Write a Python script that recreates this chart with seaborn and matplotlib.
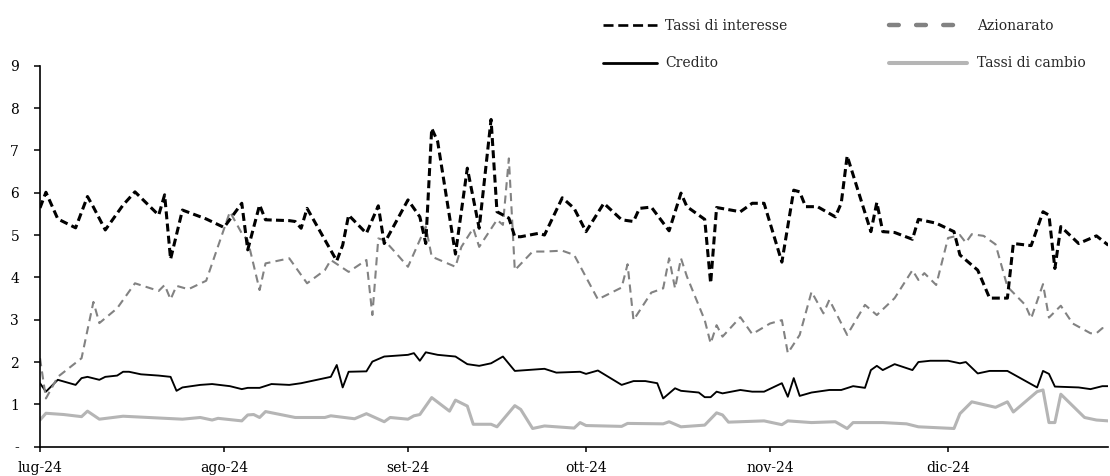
import matplotlib
matplotlib.use("Agg")
import matplotlib.pyplot as plt
from matplotlib.lines import Line2D
import numpy as np
import pandas as pd
import seaborn as sns

# valori (giorno, valore), anno 2024
tassi_interesse_giorni = [
    "07-01", "07-02", "07-04", "07-07", "07-09", "07-10", "07-12", "07-15", "07-17", "07-21",
    "07-22", "07-23", "07-25", "07-29",
    "08-01", "08-04", "08-05", "08-07", "08-08", "08-12", "08-13", "08-14", "08-15", "08-20",
    "08-21", "08-22", "08-25", "08-27", "08-28",
    "09-01", "09-03", "09-04", "09-05", "09-06", "09-09", "09-11", "09-13", "09-15", "09-16",
    "09-18", "09-19", "09-20", "09-23", "09-24", "09-27", "09-29",
    "10-01", "10-04", "10-07", "10-09", "10-10", "10-12", "10-15", "10-17", "10-18", "10-21",
    "10-22", "10-23", "10-27", "10-29", "10-31",
    "11-03", "11-05", "11-06", "11-07", "11-09", "11-12", "11-13", "11-14", "11-18", "11-19",
    "11-20", "11-22", "11-25", "11-26", "11-29",
    "12-02", "12-03", "12-06", "12-08", "12-11", "12-12", "12-15", "12-17", "12-18", "12-19",
    "12-20", "12-23", "12-26", "12-28"]
tassi_interesse = [
    5.64, 6.01, 5.38, 5.17, 5.91, 5.66, 5.12, 5.71, 6.02, 5.47, 5.95, 4.43, 5.59, 5.38,
    5.18, 5.75, 4.65, 5.71, 5.36, 5.34, 5.32, 5.16, 5.63, 4.39, 4.76, 5.47, 5.04, 5.69, 4.80,
    5.83, 5.43, 4.80, 7.52, 7.21, 4.55, 6.58, 5.16, 7.73, 5.55, 5.40, 4.96, 4.96, 5.04, 5.00,
    5.88, 5.63,
    5.08, 5.75, 5.36, 5.32, 5.63, 5.66, 5.10, 5.99, 5.67, 5.37, 3.86, 5.65, 5.55, 5.75, 5.75,
    4.36, 6.06, 6.02, 5.67, 5.67, 5.43, 5.75, 6.87, 5.08, 5.77, 5.08, 5.06, 4.90, 5.37, 5.28,
    5.08, 4.53, 4.17, 3.51, 3.51, 4.80, 4.75, 5.55, 5.47, 4.21, 5.20, 4.80, 4.98, 4.76]

azionarato_giorni = [
    "07-01", "07-02", "07-04", "07-08", "07-10", "07-11", "07-14", "07-17", "07-21", "07-22",
    "07-23", "07-24", "07-26", "07-29",
    "08-02", "08-04", "08-05", "08-07", "08-08", "08-12", "08-15", "08-18", "08-19", "08-22",
    "08-25", "08-26", "08-27", "08-28", "08-30",
    "09-01", "09-04", "09-05", "09-09", "09-10", "09-12", "09-13", "09-16", "09-17", "09-18",
    "09-19", "09-22", "09-24", "09-27", "09-29",
    "10-03", "10-07", "10-08", "10-09", "10-12", "10-14", "10-15", "10-16", "10-17", "10-18",
    "10-21", "10-22", "10-23", "10-24", "10-27", "10-29",
    "11-01", "11-03", "11-04", "11-06", "11-08", "11-10", "11-11", "11-14", "11-17", "11-19",
    "11-22", "11-25", "11-26", "11-27", "11-29",
    "12-01", "12-03", "12-04", "12-05", "12-07", "12-09", "12-11", "12-14", "12-15", "12-17",
    "12-18", "12-20", "12-22", "12-25", "12-26", "12-27", "12-28"]
azionarato = [
    2.09, 1.14, 1.65, 2.09, 3.42, 2.92, 3.27, 3.86, 3.68, 3.82, 3.48, 3.80, 3.72, 3.92,
    5.55, 5.04, 4.88, 3.70, 4.33, 4.45, 3.86, 4.17, 4.41, 4.13, 4.41, 3.11, 4.92, 4.88, 4.57,
    4.25, 5.20, 4.49, 4.25, 4.72, 5.16, 4.72, 5.36, 5.24, 6.81, 4.17, 4.61, 4.61, 4.63, 4.53,
    3.48, 3.76, 4.31, 2.99, 3.64, 3.74, 4.45, 3.74, 4.45, 4.02, 2.99, 2.44, 2.87, 2.60, 3.06,
    2.66,
    2.91, 2.99, 2.21, 2.64, 3.66, 3.15, 3.47, 2.64, 3.35, 3.11, 3.51, 4.17, 3.94, 4.10, 3.82,
    4.93, 5.00, 4.82, 5.02, 4.98, 4.78, 3.78, 3.35, 3.03, 3.84, 3.05, 3.33, 2.91, 2.68, 2.68,
    2.80, 2.82]

credito_giorni = [
    "07-01", "07-02", "07-04", "07-07", "07-08", "07-09", "07-11", "07-12", "07-14", "07-15",
    "07-16", "07-18", "07-21", "07-23", "07-24", "07-25", "07-28", "07-30",
    "08-02", "08-04", "08-05", "08-07", "08-09", "08-12", "08-14", "08-19", "08-20", "08-21",
    "08-22", "08-25", "08-26", "08-28",
    "09-01", "09-02", "09-03", "09-04", "09-06", "09-09", "09-11", "09-13", "09-15", "09-17",
    "09-19", "09-24", "09-26", "09-30",
    "10-01", "10-03", "10-07", "10-09", "10-11", "10-13", "10-14", "10-16", "10-17", "10-20",
    "10-21", "10-22", "10-23", "10-24", "10-27", "10-29", "10-31",
    "11-03", "11-04", "11-05", "11-06", "11-08", "11-11", "11-13", "11-15", "11-17", "11-18",
    "11-19", "11-20", "11-22", "11-25", "11-26", "11-28",
    "12-01", "12-03", "12-04", "12-06", "12-08", "12-11", "12-16", "12-17", "12-18", "12-19",
    "12-23", "12-25", "12-27", "12-28"]
credito = [
    1.50, 1.30, 1.58, 1.46, 1.62, 1.65, 1.58, 1.65, 1.68, 1.77, 1.77, 1.71, 1.68, 1.65, 1.32,
    1.40, 1.46, 1.48,
    1.43, 1.36, 1.39, 1.39, 1.48, 1.46, 1.50, 1.65, 1.93, 1.40, 1.77, 1.78, 2.01, 2.13,
    2.17, 2.21, 2.03, 2.23, 2.17, 2.13, 1.95, 1.91, 1.97, 2.13, 1.79, 1.84, 1.75, 1.77,
    1.72, 1.80, 1.46, 1.55, 1.55, 1.50, 1.14, 1.38, 1.32, 1.28, 1.17, 1.17, 1.30, 1.26, 1.34,
    1.30, 1.30,
    1.50, 1.18, 1.62, 1.20, 1.28, 1.34, 1.34, 1.43, 1.39, 1.81, 1.91, 1.81, 1.95, 1.81, 2.00,
    2.03,
    2.03, 1.97, 2.00, 1.73, 1.79, 1.79, 1.40, 1.79, 1.72, 1.42, 1.40, 1.36, 1.43, 1.43]

cambio_giorni = [
    "07-01", "07-02", "07-05", "07-08", "07-09", "07-11", "07-15", "07-25", "07-28", "07-30",
    "07-31",
    "08-04", "08-05", "08-06", "08-07", "08-08", "08-13", "08-18", "08-19", "08-23", "08-25",
    "08-28", "08-29",
    "09-01", "09-02", "09-03", "09-05", "09-08", "09-09", "09-11", "09-12", "09-15", "09-16",
    "09-19", "09-20", "09-22", "09-24", "09-29", "09-30",
    "10-01", "10-07", "10-08", "10-14", "10-15", "10-17", "10-21", "10-23", "10-24", "10-25",
    "10-31",
    "11-03", "11-04", "11-08", "11-12", "11-14", "11-15", "11-20", "11-24", "11-26",
    "12-02", "12-03", "12-05", "12-09", "12-11", "12-12", "12-16", "12-17", "12-18", "12-19",
    "12-20", "12-24", "12-26", "12-28"]
cambio = [
    0.63, 0.79, 0.76, 0.71, 0.84, 0.65, 0.72, 0.65, 0.69, 0.63, 0.67,
    0.61, 0.75, 0.76, 0.69, 0.83, 0.69, 0.69, 0.73, 0.66, 0.78, 0.59, 0.69,
    0.65, 0.73, 0.76, 1.16, 0.84, 1.10, 0.96, 0.53, 0.53, 0.47, 0.97, 0.88, 0.43, 0.49, 0.44,
    0.57,
    0.50, 0.48, 0.55, 0.54, 0.59, 0.47, 0.51, 0.80, 0.75, 0.58, 0.61,
    0.52, 0.61, 0.57, 0.59, 0.43, 0.57, 0.57, 0.54, 0.47,
    0.43, 0.78, 1.06, 0.93, 1.06, 0.82, 1.30, 1.34, 0.57, 0.57, 1.24, 0.69, 0.63, 0.61]

mesi = ["lug-24", "ago-24", "set-24", "ott-24", "nov-24", "dic-24"]
etichette_y = ["-", "1", "2", "3", "4", "5", "6", "7", "8", "9"]

serie = {
    "Tassi di cambio": (cambio_giorni, cambio),
    "Credito": (credito_giorni, credito),
    "Azionarato": (azionarato_giorni, azionarato),
    "Tassi di interesse": (tassi_interesse_giorni, tassi_interesse),
}
ordine = list(serie.keys())

frames = []
for nome, (giorni, valori) in serie.items():
    frames.append(pd.DataFrame({
        "data": pd.to_datetime(["2024-" + g for g in giorni]),
        "valore": valori,
        "serie": nome,
    }))
df = pd.concat(frames, ignore_index=True)

colori = {"Tassi di interesse": "#000000", "Credito": "#000000",
          "Azionarato": "#828282", "Tassi di cambio": "#b5b5b5"}
spessori = {"Tassi di interesse": 2.2, "Credito": 1.35,
            "Azionarato": 1.5, "Tassi di cambio": 2.2}
tratti = {"Tassi di interesse": (2.6, 1.4), "Credito": "",
          "Azionarato": (3.9, 2.5), "Tassi di cambio": ""}

sns.set_theme(style="white")
plt.rcParams["font.family"] = ["DejaVu Serif"]
plt.rcParams["font.size"] = 10

fig = plt.figure(figsize=(11.1, 4.76), dpi=100)
ax = fig.add_axes([40 / 1110, 1 - 446.7 / 476, 1068.3 / 1110, 381 / 476])

sns.lineplot(data=df, x="data", y="valore", hue="serie", style="serie", size="serie",
             hue_order=ordine, style_order=ordine, size_order=ordine,
             palette=colori, dashes=tratti, sizes=spessori,
             estimator=None, errorbar=None, legend=False, ax=ax)

ax.set_xlim(pd.Timestamp("2024-07-01"), pd.Timestamp("2024-12-28"))
ax.set_ylim(0, 9)
ax.set_xticks(pd.date_range("2024-07-01", periods=len(mesi), freq="MS"))
ax.set_xticklabels(mesi)
ax.set_yticks(np.arange(len(etichette_y)))
ax.set_yticklabels(etichette_y)
ax.set_xlabel("")
ax.set_ylabel("")

sns.despine(ax=ax)
for s in ["left", "bottom"]:
    ax.spines[s].set_color("black")
    ax.spines[s].set_linewidth(1.2)
ax.tick_params(axis="y", direction="out", length=4, width=1.1, pad=11,
               colors="black", labelsize=10, left=True)
ax.tick_params(axis="x", direction="out", length=3.5, width=1.1, pad=7,
               colors="black", labelsize=10, bottom=True)

# legenda su due colonne con tratti di lunghezza diversa
h_interesse = Line2D([], [], color="black", lw=1.9, dashes=(3.8, 1.8))
h_credito = Line2D([], [], color="black", lw=2.0)
h_azioni = Line2D([], [], color="#828282", lw=3.2, dashes=(2.2, 3.9),
                  dash_capstyle="round")
h_cambio = Line2D([], [], color="#b5b5b5", lw=2.9, solid_capstyle="round")

leg1 = fig.legend(handles=[h_interesse, h_credito], labels=["Tassi di interesse", "Credito"],
                  loc="upper left", bbox_to_anchor=(603 / 1110, 0.961), frameon=False,
                  borderpad=0, borderaxespad=0, handlelength=3.9, handletextpad=0.58,
                  labelspacing=1.72, fontsize=10)
leg2 = fig.legend(handles=[h_azioni, h_cambio], labels=["Azionarato", "Tassi di cambio"],
                  loc="upper left", bbox_to_anchor=(889 / 1110, 0.961), frameon=False,
                  borderpad=0, borderaxespad=0, handlelength=5.6, handletextpad=0.72,
                  labelspacing=1.72, fontsize=10)

fig.savefig("out.png", dpi=100)
